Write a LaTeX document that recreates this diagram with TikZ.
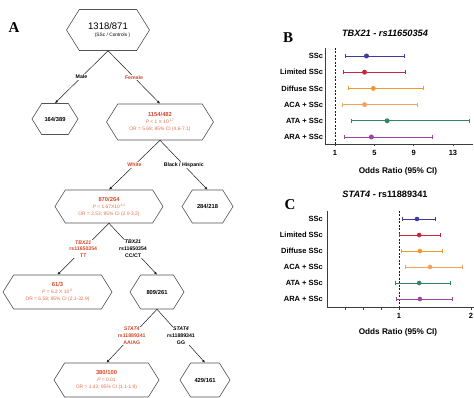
\documentclass[tikz,border=0pt]{standalone}
\usepackage{fontspec}
\setmainfont{Liberation Sans}
\newfontfamily\letterfont{Liberation Serif}
\usepackage{tikz}
\usetikzlibrary{shapes.symbols,arrows.meta}
\definecolor{ink}{HTML}{1A1A1A}
\definecolor{hit}{HTML}{D0482A}
\definecolor{hitlt}{HTML}{E2704A}
\definecolor{ssc}{HTML}{3C3C9C}
\definecolor{lim}{HTML}{C8283E}
\definecolor{dif}{HTML}{EE9A2E}
\definecolor{aca}{HTML}{F4A25A}
\definecolor{ata}{HTML}{2E8A5E}
\definecolor{ara}{HTML}{A044A4}
\newcommand{\pv}{\textit{P}}
\newcommand{\cnt}[1]{{\fontsize{5.8}{7}\selectfont\bfseries #1}}
\tikzset{
  hex/.style={signal, signal to=west and east, signal pointer angle=116, draw=ink!75,
    line width=0.6pt, align=center, inner sep=0pt, font=\fontsize{4.9}{7}\selectfont},
  edge/.style={draw=ink, line width=0.5pt, -{Latex[length=3pt,width=2.6pt]}},
  elab/.style={fill=white, inner sep=0.6pt, align=center, font=\fontsize{5.2}{6.8}\selectfont\bfseries},
  axis/.style={draw=ink!85, line width=0.6pt},
  ref/.style={draw=ink, line width=0.5pt, dash pattern=on 2pt off 1.5pt},
  bar/.style={line width=0.6pt, {Bar[width=4pt]}-{Bar[width=4pt]}},
  est/.style={circle, inner sep=0pt, minimum size=5pt},
  rowlab/.style={anchor=east, inner sep=0pt, font=\fontsize{7.5}{8}\selectfont\bfseries},
  ticklab/.style={font=\fontsize{7.5}{8}\selectfont\bfseries},
  xlab/.style={font=\fontsize{8.2}{9}\selectfont\bfseries},
  ttl/.style={font=\fontsize{9.2}{10}\selectfont\bfseries},
  panel/.style={font=\fontsize{15}{15}\selectfont\letterfont\bfseries},
}

\begin{document}
\begin{tikzpicture}[x=1pt,y=-1pt]
  \useasboundingbox (0,0) rectangle (474,398);
  \node[panel] (pa) at (14,28) {A};
  \node[hex, minimum width=83pt, minimum height=41pt] (all) at (108,30)
    {{\fontsize{9.5}{11}\selectfont 1318/871}\\{\hspace*{9pt}\fontsize{4.8}{6}\selectfont(SSc / Controls )}};
  \node[hex, minimum width=46pt, minimum height=31pt] (male) at (55,119) {\cnt{164/389}};
  \node[hex, minimum width=107pt, minimum height=36pt, text=hitlt] (female) at (160,122)
    {\textcolor{hit}{\cnt{1154/482}}\\\pv{} {\textless} 1 X 10\textsuperscript{-17}\\OR = 5.68; 95\% CI (4.6-7.1)};
  \node[hex, minimum width=108pt, minimum height=33pt, text=hitlt] (white) at (109,206.5)
    {\textcolor{hit}{\cnt{870/264}}\\\pv{} = 1.67X10\textsuperscript{-14}\\OR = 2.53; 95\% CI (2.0-3.2)};
  \node[hex, minimum width=51pt, minimum height=33pt] (black) at (207.5,206.5) {\cnt{284/218}};
  \node[hex, minimum width=109pt, minimum height=34pt, text=hitlt] (tt) at (57.5,292)
    {\textcolor{hit}{\cnt{61/3}}\\\pv{} = 6.2 X 10\textsuperscript{-5}\\OR = 6.58; 95\% CI (2.1-32.9)};
  \node[hex, minimum width=54pt, minimum height=34pt] (cc) at (157,292) {\cnt{809/261}};
  \node[hex, minimum width=105pt, minimum height=34pt, text=hitlt] (aa) at (106.5,380)
    {\textcolor{hit}{\cnt{380/100}}\\\pv{} = 0.01\\OR = 1.43; 95\% CI (1.1-1.9)};
  \node[hex, minimum width=50pt, minimum height=34pt] (gg) at (205,380) {\cnt{429/161}};

  \draw[edge] (all.south) -- node[elab] (lmale) {Male} (male.north);
  \draw[edge] (all.south) -- node[elab, text=hit] (lfemale) {Female} (female.north);
  \draw[edge] (female.south) -- node[elab, text=hit] (lwhite) {White} (white.north);
  \draw[edge] (female.south) -- node[elab] (lblack) {Black / Hispanic} (black.north);
  \draw[edge] (white.south) -- node[elab, text=hit] (ltt) {\textit{TBX21}\\rs11650354\\TT} (tt.north);
  \draw[edge] (white.south) -- node[elab] (lcc) {\textit{TBX21}\\rs11650354\\CC/CT} (cc.north);
  \draw[edge] (cc.south) -- node[elab, text=hit] (laa) {\textit{STAT4}\\rs11889341\\AA/AG} (aa.north);
  \draw[edge] (cc.south) -- node[elab] (lgg) {\textit{STAT4}\\rs11889341\\GG} (gg.north);

  \node[panel] (pb) at (288,38) {B};
  \node[ttl] (tb) at (385,33) {\itshape TBX21 - rs11650354};
  \begin{scope}[shift={(325.2,0)}, x=9.83pt]
    \draw[axis] (0,48) -- (0,144) -- (15,144);
    \draw[ref] (1,48) -- (1,144);
    \foreach \t in {1,5,9,13} {
      \draw[axis] (\t,144) -- (\t,146.5);
      \node[ticklab] (bt\t) at (\t,153) {\t};
    }
    \foreach \lab/\c/\y/\lo/\m/\hi in {SSc/ssc/56/2.0/4.2/8.1, Limited SSc/lim/72.2/1.8/4.0/8.2,
        Diffuse SSc/dif/88.4/2.3/4.9/10.0, ACA + SSc/aca/104.6/1.7/4.0/9.4,
        ATA + SSc/ata/120.8/2.6/6.3/14.7, ARA + SSc/ara/137/1.9/4.7/10.9} {
      \node[rowlab] (bl\c) at (-0.2,\y) {\lab};
      \draw[\c, bar] (\lo,\y) -- (\hi,\y);
      \node[est, fill=\c] (bm\c) at (\m,\y) {};
    }
  \end{scope}
  \node[xlab] (bx) at (398,171) {Odds Ratio (95\% CI)};

  \node[panel] (pc) at (290,205) {C};
  \node[ttl] (tc) at (385,194) {\textit{STAT4} - rs11889341};
  \begin{scope}[shift={(327,0)}, x=72pt]
    \draw[axis] (0,211) -- (0,307) -- (2.05,307);
    \draw[ref] (1,211) -- (1,307);
    \foreach \t in {0.25,0.5,0.75,1,2}
      \draw[axis] (\t,307) -- (\t,309.5);
    \node[ticklab] (ct1) at (1,316) {1};
    \node[ticklab] (ct2) at (2,316) {2};
    \foreach \lab/\c/\y/\lo/\m/\hi in {SSc/ssc/219/1.04/1.25/1.51, Limited SSc/lim/235/1.0/1.28/1.58,
        Diffuse SSc/dif/251/1.03/1.29/1.61, ACA + SSc/aca/267/1.08/1.43/1.89,
        ATA + SSc/ata/283/0.94/1.28/1.72, ARA + SSc/ara/299/0.96/1.29/1.75} {
      \node[rowlab] (cl\c) at (-0.055,\y) {\lab};
      \draw[\c, bar] (\lo,\y) -- (\hi,\y);
      \node[est, fill=\c, minimum size=4.6pt] (cm\c) at (\m,\y) {};
    }
  \end{scope}
  \node[xlab] (cx) at (398,332) {Odds Ratio (95\% CI)};
\end{tikzpicture}
\end{document}
